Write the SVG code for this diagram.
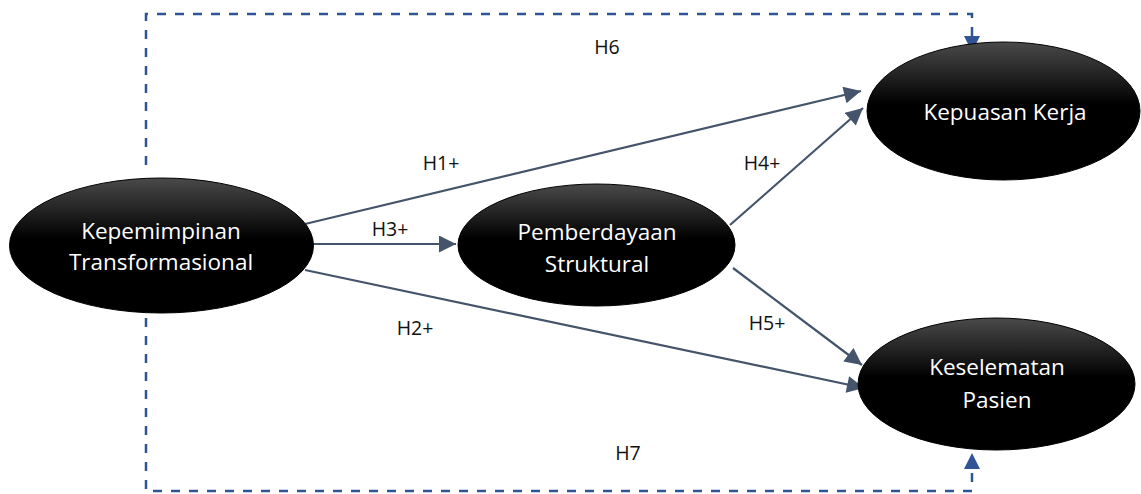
<svg xmlns="http://www.w3.org/2000/svg" width="1141" height="494" viewBox="0 0 1141 494">
<style>
.node{stroke:#000;stroke-width:1}
.nt{font-family:"Open Sans","Noto Sans",sans-serif;font-size:22.5px;fill:#fff;text-anchor:middle}
.lb{font-family:"Open Sans","Noto Sans",sans-serif;font-size:19.5px;fill:#111;text-anchor:middle}
.sol{stroke:#44546A;stroke-width:2.2;fill:none}
.dash{stroke:#2F5597;stroke-width:2.5;fill:none;stroke-dasharray:9 9}
</style>
<defs>
<linearGradient id="g" x1="0" y1="0" x2="0" y2="1">
<stop offset="0" stop-color="#4a4a4a"/>
<stop offset="0.45" stop-color="#000"/>
<stop offset="1" stop-color="#000"/>
</linearGradient>
<marker id="as" viewBox="0 0 10 10" refX="10" refY="5" markerWidth="18" markerHeight="17" markerUnits="userSpaceOnUse" orient="auto"><path d="M0,0L10,5L0,10z" fill="#44546A"/></marker>
</defs>
<g id="connectors">
<path class="dash" d="M146,165V14H972V36"/>
<path d="M964,36L980,36L972,52z" fill="#2F5597"/>
<path class="dash" d="M146,318V491H972V468"/>
<path d="M964,469L980,469L972,453z" fill="#2F5597"/>
<line class="sol" x1="305" y1="224" x2="861" y2="91" marker-end="url(#as)"/>
<line class="sol" x1="730" y1="225" x2="863" y2="108" marker-end="url(#as)"/>
<line class="sol" x1="313" y1="244" x2="456" y2="244" marker-end="url(#as)"/>
<line class="sol" x1="305" y1="270" x2="864" y2="388" marker-end="url(#as)"/>
<line class="sol" x1="733" y1="268" x2="862" y2="365" marker-end="url(#as)"/>
<text class="lb" x="607" y="54">H6</text>
<text class="lb" x="441" y="170">H1+</text>
<text class="lb" x="762" y="170">H4+</text>
<text class="lb" x="390" y="236">H3+</text>
<text class="lb" x="415" y="335">H2+</text>
<text class="lb" x="767" y="330">H5+</text>
<text class="lb" x="628" y="460">H7</text>
</g>
<g id="kepemimpinan">
<ellipse class="node" cx="161.5" cy="245.5" rx="152" ry="67.5" fill="url(#g)"/>
<text class="nt" x="161" y="239">Kepemimpinan</text>
<text class="nt" x="161" y="270">Transformasional</text>
</g>
<g id="pemberdayaan">
<ellipse class="node" cx="596.5" cy="245" rx="138.5" ry="61" fill="url(#g)"/>
<text class="nt" x="597" y="240">Pemberdayaan</text>
<text class="nt" x="597" y="272">Struktural</text>
</g>
<g id="kepuasan">
<ellipse class="node" cx="1003.5" cy="111" rx="136.5" ry="69" fill="url(#g)"/>
<text class="nt" x="1005" y="120">Kepuasan Kerja</text>
</g>
<g id="keselamatan">
<ellipse class="node" cx="996.5" cy="384" rx="138.5" ry="66" fill="url(#g)"/>
<text class="nt" x="997" y="375">Keselematan</text>
<text class="nt" x="997" y="408">Pasien</text>
</g>
</svg>
